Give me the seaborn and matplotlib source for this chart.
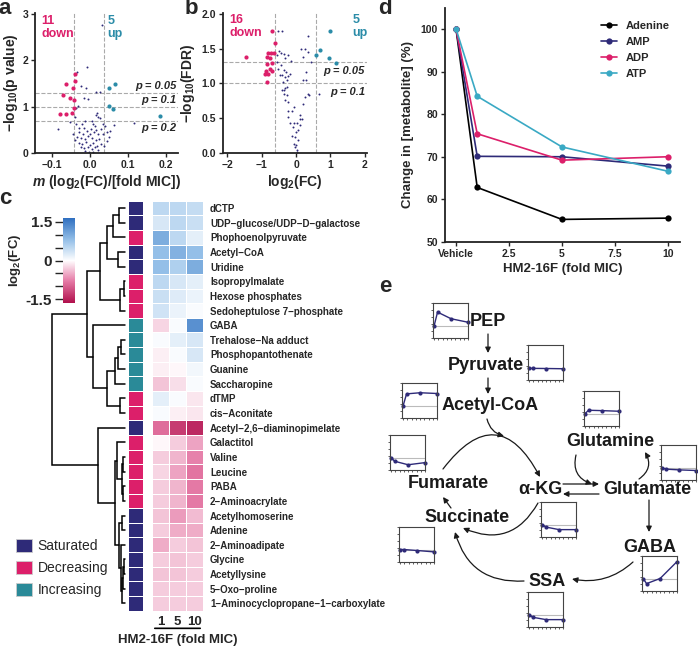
import numpy as np
import pandas as pd
import matplotlib
matplotlib.use('Agg')
import matplotlib.pyplot as plt
import seaborn as sns
from matplotlib.colors import LinearSegmentedColormap, ListedColormap
from matplotlib.patches import Patch

# ---------------- data ----------------
# panel a: slope of log2(FC) vs dose, -log10(p)
a_down_x = [-0.040, -0.040, -0.062, -0.045, -0.072, -0.054, -0.042, -0.042, -0.079, -0.063, -0.047]
a_down_y = [1.70, 1.56, 1.48, 1.40, 1.26, 1.19, 1.14, 0.96, 0.85, 0.85, 0.87]
a_up_x = [0.067, 0.050, 0.050, 0.061, 0.185]
a_up_y = [1.49, 1.40, 1.01, 0.95, 0.79]
a_ns_x = [0.032, -0.008, -0.035, -0.025, -0.010, 0.017, 0.026, -0.017, -0.006, -0.031,
          -0.038, 0.016, 0.021, 0.026, 0.019, 0.062, 0.117, -0.085, -0.053, -0.040,
          -0.030, -0.022, -0.012, 0.004, 0.012, 0.030, 0.040, 0.044, 0.035, -0.028,
          -0.018, -0.008, 0.002, 0.010, 0.020, -0.034, -0.024, -0.014, -0.004, 0.006,
          0.015, 0.025, -0.030, -0.020, -0.010, 0.000, 0.009, 0.018, 0.028, -0.025,
          -0.015, -0.005, 0.004, 0.012, 0.022, -0.002, 0.007, -0.012, 0.045, 0.050,
          -0.040, 0.033, -0.016, 0.008, -0.001, 0.016, 0.038, -0.036, 0.054, -0.046]
a_ns_y = [2.76, 1.85, 1.74, 1.45, 1.40, 1.32, 1.31, 1.18, 1.16, 1.02,
          0.96, 0.82, 0.78, 0.75, 0.86, 0.60, 0.64, 0.51, 0.67, 0.78,
          0.55, 0.62, 0.70, 0.68, 0.58, 0.52, 0.58, 0.45, 0.40, 0.45,
          0.42, 0.48, 0.52, 0.45, 0.40, 0.35, 0.32, 0.30, 0.36, 0.33,
          0.28, 0.30, 0.22, 0.20, 0.24, 0.18, 0.22, 0.16, 0.20, 0.12,
          0.10, 0.14, 0.08, 0.12, 0.06, 0.03, 0.02, 0.05, 0.25, 0.35,
          0.28, 0.62, 0.55, 0.62, 0.42, 0.50, 0.15, 0.62, 0.48, 0.40]

# panel b: volcano log2(FC) vs -log10(FDR)
b_down_x = [-0.69, -0.61, -1.46, -0.80, -0.73, -0.83, -0.75, -0.83, -0.69, -0.87,
            -0.71, -0.80, -0.89, -0.83, -0.76, -0.64]
b_down_y = [1.75, 1.58, 1.38, 1.44, 1.44, 1.38, 1.37, 1.28, 1.29, 1.18,
            1.18, 1.13, 1.13, 1.02, 1.21, 1.43]
b_up_x = [1.00, 0.69, 0.58, 0.96, 1.15]
b_up_y = [1.75, 1.48, 1.41, 1.36, 1.29]
b_ns_x = [-0.53, -0.40, 0.35, 0.13, 0.25, 0.35, -0.50, -0.45, -0.36, -0.22,
          -0.56, -0.15, 0.44, -0.54, -0.45, -0.36, -0.47, -0.40, -0.31, -0.22,
          -0.17, -0.26, 0.21, 0.28, 0.30, 0.35, 0.39, 0.68, -0.36, -0.31,
          -0.26, -0.22, -0.12, -0.22, 0.21, 0.11, 0.16, -0.17, -0.07, 0.02,
          0.07, -0.12, -0.03, -0.06, -0.03, 0.02, 0.04, -0.40, -0.36, -0.31,
          0.25, -0.22, -0.07, 0.11, 0.00, -0.09, 0.07, 0.00, 0.11, -0.26,
          -0.38, -0.28, -0.51, -0.31, 0.19]
b_ns_y = [1.75, 1.75, 1.68, 1.49, 1.49, 1.45, 1.46, 1.43, 1.42, 1.41,
          1.41, 1.32, 1.31, 1.31, 1.26, 1.19, 1.12, 1.12, 1.09, 1.10,
          1.14, 1.05, 1.38, 1.17, 1.05, 0.85, 0.83, 0.84, 0.84, 0.76,
          0.83, 0.73, 0.61, 0.61, 0.71, 0.54, 0.49, 0.43, 0.43, 0.43,
          0.33, 0.25, 0.23, 0.13, 0.09, 0.04, 0.01, 0.90, 0.90, 0.93,
          0.81, 0.52, 0.66, 0.40, 0.30, 0.37, 0.18, 0.12, 0.49, 0.95,
          1.02, 1.17, 1.20, 1.36, 1.05]

# panel c: heatmap of log2(FC) at 1, 5, 10 x MIC
metabolites = ['dCTP', 'UDP\u2212glucose/UDP\u2212D\u2212galactose', 'Phophoenolpyruvate',
               'Acetyl\u2212CoA', 'Uridine', 'Isopropylmalate', 'Hexose phosphates',
               'Sedoheptulose 7\u2212phosphate', 'GABA', 'Trehalose\u2212Na adduct',
               'Phosphopantothenate', 'Guanine', 'Saccharopine', 'dTMP', 'cis\u2212Aconitate',
               'Acetyl\u22122,6\u2212diaminopimelate', 'Galactitol', 'Valine', 'Leucine', 'PABA',
               '2\u2212Aminoacrylate', 'Acetylhomoserine', 'Adenine', '2\u2212Aminoadipate',
               'Glycine', 'Acetyllysine', '5\u2212Oxo\u2212proline',
               '1\u2212Aminocyclopropane\u22121\u2212carboxylate']
fold_mic = ['1', '5', '10']
fc_1x = [0.50, 0.30, 1.00, 0.80, 0.80, 0.50, 0.40, 0.35, -0.25, 0.05,
         -0.10, -0.10, -0.35, 0.20, 0.05, -0.90, -0.05, -0.30, -0.25, -0.30,
         -0.30, -0.35, -0.30, -0.50, -0.30, -0.35, -0.30, -0.30]
fc_5x = [0.50, 0.50, 0.50, 0.95, 0.60, 0.30, 0.25, 0.15, 0.05, 0.20,
         0.05, -0.05, -0.20, 0.05, -0.10, -1.30, -0.30, -0.45, -0.55, -0.45,
         -0.45, -0.60, -0.50, -0.30, -0.35, -0.35, -0.30, -0.30]
fc_10x = [0.45, 0.40, 0.20, 0.80, 1.00, 0.20, 0.15, 0.05, 1.30, 0.30,
          0.30, 0.10, 0.05, -0.15, -0.15, -1.45, -0.55, -0.75, -0.85, -0.80,
          -0.80, -0.40, -0.50, -0.35, -0.30, -0.30, -0.30, -0.30]
# 0 = saturated, 1 = decreasing, 2 = increasing
trend = [0, 0, 1, 0, 0, 1, 1, 1, 2, 2, 2, 2, 2, 1, 1, 0, 1, 1, 1, 1, 1, 0, 0, 0, 0, 0, 0, 0]
trend_names = ['Saturated', 'Decreasing', 'Increasing']
# hierarchical clustering merges: (child a, child b, distance); new ids start at 28
merges = [(0, 1, 6), (28, 2, 12), (3, 4, 7), (29, 30, 18), (5, 6, 1), (32, 7, 4.5),
          (31, 33, 25), (9, 10, 4), (35, 11, 7), (36, 12, 10), (13, 14, 5), (37, 38, 18),
          (8, 39, 32), (34, 40, 38), (17, 18, 2), (19, 20, 2), (42, 43, 3), (16, 44, 8),
          (21, 22, 3), (24, 25, 1), (47, 26, 2), (48, 27, 3), (23, 49, 4), (46, 50, 6),
          (45, 51, 10), (15, 52, 27), (41, 53, 73)]

# panel d: adenine nucleotides
dose_d = [0, 1, 5, 10]
adenine = [100, 62.8, 55.3, 55.6]
amp = [100, 70.1, 70.0, 67.8]
adp = [100, 75.4, 69.2, 70.0]
atp = [100, 84.2, 72.3, 66.6]

# panel e: pathway mini plots (fold change vs vehicle at 0, 1, 5, 10 x MIC)
inset_dose = [0, 1, 5, 10]
pep_fc = [1.0, 2.07, 1.54, 1.26]
pyruvate_fc = [0.93, 0.93, 0.92, 0.90]
acetylcoa_fc = [1.0, 1.93, 2.02, 1.96]
fumarate_fc = [1.0, 0.70, 0.42, 0.59]
succinate_fc = [1.0, 1.0, 0.92, 0.81]
glutamine_fc = [1.0, 1.26, 1.23, 1.18]
glutamate_fc = [1.0, 0.87, 0.81, 0.76]
akg_fc = [1.0, 0.80, 0.59, 0.59]
gaba_fc = [1.0, 0.59, 1.0, 2.35]
ssa_fc = [1.0, 0.78, 0.59, 0.59]

# ---------------- style ----------------
NAVY = '#2e2a78'
PINK = '#dc1f6a'
TEAL = '#2a8a98'
UPC = '#2b8ca8'
SKY = '#3aa9c4'
GRID = '#aaaaaa'

sns.set_style('ticks')
plt.rcParams['font.family'] = ['Liberation Sans', 'DejaVu Sans']
plt.rcParams['font.weight'] = 'bold'
plt.rcParams['axes.labelweight'] = 'bold'
plt.rcParams['mathtext.fontset'] = 'custom'
plt.rcParams['mathtext.rm'] = 'Liberation Sans'
plt.rcParams['mathtext.bf'] = 'Liberation Sans:bold'
plt.rcParams['mathtext.it'] = 'Liberation Sans:italic'
plt.rcParams['mathtext.bfit'] = 'Liberation Sans:italic:bold'

W, H = 698, 646
fig = plt.figure(figsize=(W / 100, H / 100), dpi=100)


def box(x0, y0, x1, y1):
    # pixel box (top-left origin) -> figure fraction
    return [x0 / W, 1 - y1 / H, (x1 - x0) / W, (y1 - y0) / H]


def style_axis(ax, tick_size=7.5):
    sns.despine(ax=ax)
    for sp in ['left', 'bottom']:
        ax.spines[sp].set_linewidth(1.3)
        ax.spines[sp].set_color('#222222')
    ax.tick_params(labelsize=tick_size, length=3, width=1, pad=2)
    for lab in ax.get_xticklabels() + ax.get_yticklabels():
        lab.set_fontweight('bold')


# overlay axes for pathway drawing (pixel coordinates)
ax_e = fig.add_axes([0, 0, 1, 1])
ax_e.set_xlim(0, W)
ax_e.set_ylim(H, 0)
ax_e.axis('off')

# ---------------- panel a ----------------
ax_a = fig.add_axes(box(35, 13, 178, 153))
for yl in [1.3, 1.0, 0.7]:
    ax_a.axhline(yl, color=GRID, ls='--', lw=0.8, zorder=0)
for xl in [-0.042, 0.037]:
    ax_a.axvline(xl, color=GRID, ls='--', lw=0.8, zorder=0)
sns.scatterplot(x=a_ns_x, y=a_ns_y, color=NAVY, s=2, linewidth=0, ax=ax_a)
sns.scatterplot(x=a_down_x, y=a_down_y, color=PINK, s=9, linewidth=0, ax=ax_a)
sns.scatterplot(x=a_up_x, y=a_up_y, color=UPC, s=9, linewidth=0, ax=ax_a)
ax_a.set_xlim(-0.145, 0.232)
ax_a.set_ylim(0, 3.02)
ax_a.set_xticks([-0.1, 0.0, 0.1, 0.2])
ax_a.set_xticklabels(['\u22120.1', '0.0', '0.1', '0.2'])
ax_a.set_yticks([0, 1, 2, 3])
ax_a.set_ylabel(r'$\mathbf{-log_{10}(p\ value)}$', fontsize=10, labelpad=2)
ax_a.set_xlabel(r'$\mathbfit{m}$ (log$\mathbf{_2}$(FC)/[fold MIC])', fontsize=10, labelpad=2)
ax_a.text(-0.128, 2.98, '11\ndown', color=PINK, fontsize=9, va='top', linespacing=1.1)
ax_a.text(0.046, 2.98, '5\nup', color=UPC, fontsize=9, va='top', linespacing=1.1)
ax_a.text(0.228, 1.34, 'p = 0.05', style='italic', fontsize=8, ha='right', va='bottom')
ax_a.text(0.228, 1.04, 'p = 0.1', style='italic', fontsize=8, ha='right', va='bottom')
ax_a.text(0.228, 0.65, 'p = 0.2', style='italic', fontsize=8, ha='right', va='top')
style_axis(ax_a)

# ---------------- panel b ----------------
ax_b = fig.add_axes(box(223, 13, 367, 153))
for yl in [1.3, 1.0]:
    ax_b.axhline(yl, color=GRID, ls='--', lw=0.8, zorder=0)
for xl in [-0.6, 0.58]:
    ax_b.axvline(xl, color=GRID, ls='--', lw=0.8, zorder=0)
sns.scatterplot(x=b_ns_x, y=b_ns_y, color=NAVY, s=2, linewidth=0, ax=ax_b)
sns.scatterplot(x=b_down_x, y=b_down_y, color=PINK, s=9, linewidth=0, ax=ax_b)
sns.scatterplot(x=b_up_x, y=b_up_y, color=UPC, s=9, linewidth=0, ax=ax_b)
ax_b.set_xlim(-2.12, 2.06)
ax_b.set_ylim(0, 2.01)
ax_b.set_xticks([-2, -1, 0, 1, 2])
ax_b.set_xticklabels(['\u22122', '\u22121', '0', '1', '2'])
ax_b.set_yticks([0, 0.5, 1.0, 1.5, 2.0])
ax_b.set_yticklabels(['0.0', '0.5', '1.0', '1.5', '2.0'])
ax_b.set_ylabel(r'$\mathbf{-log_{10}(FDR)}$', fontsize=10, labelpad=3)
ax_b.set_xlabel(r'log$\mathbf{_2}$(FC)', fontsize=10, labelpad=2)
ax_b.text(-1.93, 1.99, '16\ndown', color=PINK, fontsize=9, va='top', linespacing=1.1)
ax_b.text(1.64, 1.99, '5\nup', color=UPC, fontsize=9, va='top', linespacing=1.1)
ax_b.text(2.0, 1.25, 'p = 0.05', style='italic', fontsize=8, ha='right', va='top')
ax_b.text(2.0, 0.95, 'p = 0.1', style='italic', fontsize=8, ha='right', va='top')
style_axis(ax_b)

# ---------------- panel d ----------------
ax_d = fig.add_axes(box(445, 8, 680, 242))
d_df = pd.DataFrame({
    'dose': dose_d * 4,
    'pct': adenine + amp + adp + atp,
    'metabolite': ['Adenine'] * 4 + ['AMP'] * 4 + ['ADP'] * 4 + ['ATP'] * 4,
})
sns.lineplot(data=d_df, x='dose', y='pct', hue='metabolite',
             hue_order=['Adenine', 'AMP', 'ADP', 'ATP'],
             palette={'Adenine': 'black', 'AMP': NAVY, 'ADP': PINK, 'ATP': SKY},
             marker='o', markersize=4.5, markeredgewidth=0, lw=1.2, ax=ax_d)
ax_d.set_xlim(-0.52, 10.57)
ax_d.set_ylim(50, 104.9)
ax_d.set_xticks([0, 2.5, 5, 7.5, 10])
ax_d.set_xticklabels(['Vehicle', '2.5', '5', '7.5', '10'])
ax_d.set_yticks([50, 60, 70, 80, 90, 100])
ax_d.set_xlabel('HM2-16F (fold MIC)', fontsize=9.5, labelpad=3)
ax_d.set_ylabel('Change in [metabolite] (%)', fontsize=9.5, labelpad=5)
handles, labels = ax_d.get_legend_handles_labels()
ax_d.legend(handles=handles, labels=labels, frameon=False, loc='upper left',
            bbox_to_anchor=(0.64, 0.97), fontsize=8, handlelength=1.4,
            labelspacing=0.55, handletextpad=0.8, borderpad=0)
style_axis(ax_d)

# ---------------- panel c ----------------
heat_df = pd.DataFrame({'1': fc_1x, '5': fc_5x, '10': fc_10x}, index=metabolites)
cmap_fc = LinearSegmentedColormap.from_list(
    'fc', [(0, '#b0104c'), (0.258, '#e57aa6'), (0.5, '#ffffff'),
           (0.742, '#95c0e8'), (1, '#2f6fc0')])
ax_h = fig.add_axes(box(152, 200.7, 203, 610.7))
cax = fig.add_axes(box(63, 218, 75, 303))
sns.heatmap(heat_df, ax=ax_h, cmap=cmap_fc, vmin=-1.65, vmax=1.65,
            linewidths=0.6, linecolor='white', cbar_ax=cax,
            xticklabels=fold_mic, yticklabels=metabolites)
ax_h.yaxis.tick_right()
ax_h.set_yticklabels(metabolites, rotation=0, fontsize=7, fontweight='bold')
ax_h.set_xticklabels(fold_mic, rotation=0, fontsize=9.5, fontweight='bold')
ax_h.tick_params(length=0, pad=4)
ax_h.tick_params(axis='y', pad=5)
ax_h.set_xlabel('HM2-16F (fold MIC)', fontsize=9.5, labelpad=4)
ax_h.annotate('', xy=(0, -0.043), xytext=(1, -0.043), xycoords='axes fraction',
              arrowprops=dict(arrowstyle='-', lw=1.2, color='black'))

cbar = ax_h.collections[0].colorbar
cbar.set_ticks([-1.5, -1.0, -0.5, 0, 0.5, 1.0, 1.5])
cbar.set_ticklabels(['-1.5', '', '', '0', '', '', '1.5'])
cbar.outline.set_visible(False)
cax.yaxis.set_ticks_position('left')
cax.yaxis.set_label_position('left')
cax.tick_params(length=6, width=1, labelsize=11, pad=2)
for lab in cax.get_yticklabels():
    lab.set_fontweight('bold')
cax.set_ylabel(r'log$\mathbf{_2}$(FC)', fontsize=9.5, labelpad=2)

ax_cat = fig.add_axes(box(128, 200.7, 143, 610.7))
sns.heatmap(np.array(trend).reshape(-1, 1), ax=ax_cat,
            cmap=ListedColormap([NAVY, PINK, TEAL]), vmin=-0.5, vmax=2.5,
            cbar=False, linewidths=0.6, linecolor='white',
            xticklabels=False, yticklabels=False)

# dendrogram from merge list
ax_dn = fig.add_axes(box(50, 200.7, 125, 610.7))
pos = {i: i + 0.5 for i in range(len(metabolites))}
hgt = {i: 0.0 for i in range(len(metabolites))}
for k, (ca, cb, dist) in enumerate(merges):
    node = len(metabolites) + k
    ax_dn.plot([hgt[ca], dist, dist, hgt[cb]], [pos[ca], pos[ca], pos[cb], pos[cb]],
               color='black', lw=1.1, clip_on=False, solid_joinstyle='miter')
    pos[node] = (pos[ca] + pos[cb]) / 2
    hgt[node] = dist
ax_dn.set_xlim(75, 0)
ax_dn.set_ylim(len(metabolites), 0)
ax_dn.axis('off')

fig.legend(handles=[Patch(facecolor=c, edgecolor='#cccccc', lw=0.6, label=n)
                    for c, n in zip([NAVY, PINK, TEAL], trend_names)],
           loc='upper left', bbox_to_anchor=(16 / W, 1 - 539 / H), frameon=False,
           prop={'size': 10, 'weight': 'normal'}, handlelength=1.15, handleheight=1.1,
           labelspacing=0.55, handletextpad=0.4, borderpad=0, borderaxespad=0)

# ---------------- panel e ----------------
pathway_nodes = {
    'PEP': (488, 322), 'Pyruvate': (486, 366), 'Acetyl-CoA': (490, 406),
    'Glutamine': (610, 441), 'Fumarate': (448, 483), '\u03b1-KG': (540, 490),
    'Glutamate': (647, 490), 'Succinate': (467, 517), 'GABA': (650, 547),
    'SSA': (547, 581),
}
for name, (x, y) in pathway_nodes.items():
    ax_e.text(x, y, name, fontsize=13, fontweight='bold', ha='center', va='center',
              color='#1a1a1a')

pathway_arrows = [
    ((488, 334), (488, 353), 0.0),
    ((488, 378), (488, 394), 0.0),
    ((487, 419), (504, 436), 0.3),
    ((443, 469), (540, 477), -0.78),
    ((538, 503), (463, 528), -0.45),
    ((451, 508), (443, 497), 0.0),
    ((524, 581), (455, 532), -0.4),
    ((633, 562), (572, 579), -0.25),
    ((649, 500), (649, 532), 0.0),
    ((563, 484), (599, 484), 0.0),
    ((599, 494), (563, 494), 0.0),
    ((576, 455), (592, 484), 0.45),
    ((639, 479), (645, 452), 0.45),
]
for (x0, y0), (x1, y1), rad in pathway_arrows:
    ax_e.annotate('', xy=(x1, y1), xytext=(x0, y0), xycoords='data',
                  arrowprops=dict(arrowstyle='-|>', color='#1a1a1a', lw=0.9,
                                  mutation_scale=8, shrinkA=0, shrinkB=0,
                                  connectionstyle=f'arc3,rad={rad}'))

inset_specs = [
    ((433, 303), pep_fc), ((528, 345), pyruvate_fc), ((402, 383), acetylcoa_fc),
    ((390, 435), fumarate_fc), ((399, 527), succinate_fc), ((584, 391), glutamine_fc),
    ((661, 445), glutamate_fc), ((541, 502), akg_fc), ((642, 556), gaba_fc),
    ((528, 592), ssa_fc),
]
for (x0, y0), fc in inset_specs:
    ax_i = fig.add_axes(box(x0, y0, x0 + 35, y0 + 35))
    ax_i.axhline(1, color='#bbbbbb', lw=0.8, zorder=0)
    sns.lineplot(x=inset_dose, y=fc, color=NAVY, marker='o', markersize=3,
                 markeredgewidth=0, lw=1, ax=ax_i, clip_on=False)
    ax_i.set_xlim(-0.35, 10)
    ax_i.set_ylim(0, 2.8)
    ax_i.set_xticks(np.linspace(0, 10, 9))
    ax_i.set_yticks(np.linspace(0, 2.8, 6))
    ax_i.tick_params(length=1.5, width=0.6, labelleft=False, labelbottom=False,
                     color='#444444')
    for sp in ax_i.spines.values():
        sp.set_color('#444444')
        sp.set_linewidth(0.8)

# panel letters
for letter, (x, y) in {'a': (5, 9), 'b': (191, 9), 'c': (5, 199), 'd': (385, 9),
                       'e': (385, 287)}.items():
    fig.text(x / W, 1 - y / H, letter, fontsize=16, fontweight='bold',
             ha='center', va='center')

fig.savefig('out.png', dpi=100)
